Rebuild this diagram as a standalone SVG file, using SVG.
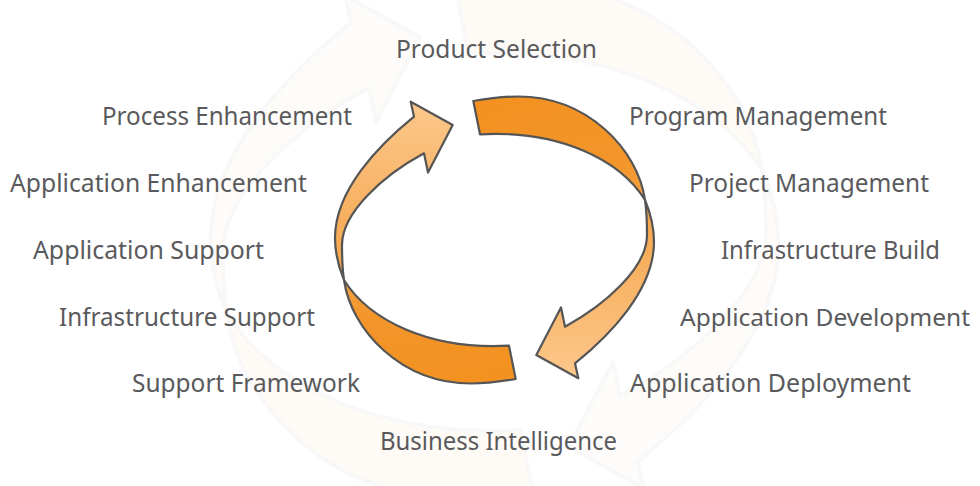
<svg xmlns="http://www.w3.org/2000/svg" xmlns:xlink="http://www.w3.org/1999/xlink" width="980" height="486" viewBox="0 0 980 486">
  <style>
    .lbl { font-family: "Noto Sans", "Open Sans", "Liberation Sans", sans-serif; font-size: 26px; fill: #5a5a5c; }
    .edge { stroke: #555555; stroke-width: 2.2; stroke-linejoin: round; }
    .faint .edge { stroke-width: 1.2; }
  </style>
  <defs>
    <linearGradient id="gLight" x1="0" y1="0" x2="0" y2="1">
      <stop offset="0" stop-color="#f5a247"/>
      <stop offset="1" stop-color="#fcc88c"/>
    </linearGradient>
    <linearGradient id="gDark" x1="0.3" y1="0" x2="1" y2="1">
      <stop offset="0" stop-color="#f39221"/>
      <stop offset="0.7" stop-color="#f3952a"/>
      <stop offset="1" stop-color="#f5a244"/>
    </linearGradient>
    <g id="half">
      <path class="edge" fill="url(#gDark)" d="M473.3,101 C488,98.5 503,96.5 518,96.5 C588,96.5 638,150 645,200 C620,160 560,130 480,134.3 Z"/>
      <path class="edge" fill="url(#gLight)" d="M645,200 C650,212 654,226 654,242 C654,290 610,335 575,363.3 L578.3,378.3 L536.3,355 L561,307.5 L565,326.7 C605,305 647,268 647,235 C647,222 646.5,210 645,200 Z"/>
    </g>
  </defs>

  <rect x="0" y="0" width="980" height="486" fill="#ffffff"/>

  <g id="background" class="faint" opacity="0.035" transform="translate(494.5,242) scale(1.78) translate(-494.5,-240)">
    <use xlink:href="#half"/>
    <use xlink:href="#half" transform="rotate(180 494.5 240)"/>
  </g>

  <g id="connectors">
    <g id="cycle-right">
      <use xlink:href="#half"/>
    </g>
    <g id="cycle-left">
      <use xlink:href="#half" transform="rotate(180 494.5 240)"/>
    </g>
  </g>

  <g id="product-selection"><text class="lbl" x="396" y="57.5" textLength="201" lengthAdjust="spacingAndGlyphs">Product Selection</text></g>
  <g id="process-enhancement"><text class="lbl" x="102" y="124.5" textLength="250" lengthAdjust="spacingAndGlyphs">Process Enhancement</text></g>
  <g id="program-management"><text class="lbl" x="629" y="124.5" textLength="258" lengthAdjust="spacingAndGlyphs">Program Management</text></g>
  <g id="application-enhancement"><text class="lbl" x="10" y="191.5" textLength="297" lengthAdjust="spacingAndGlyphs">Application Enhancement</text></g>
  <g id="project-management"><text class="lbl" x="689" y="191.5" textLength="240" lengthAdjust="spacingAndGlyphs">Project Management</text></g>
  <g id="application-support"><text class="lbl" x="33" y="258.5" textLength="231" lengthAdjust="spacingAndGlyphs">Application Support</text></g>
  <g id="infrastructure-build"><text class="lbl" x="721" y="258.5" textLength="219" lengthAdjust="spacingAndGlyphs">Infrastructure Build</text></g>
  <g id="infrastructure-support"><text class="lbl" x="59" y="325.5" textLength="256" lengthAdjust="spacingAndGlyphs">Infrastructure Support</text></g>
  <g id="application-development"><text class="lbl" x="680" y="325.5" style="font-size:24px" textLength="290" lengthAdjust="spacingAndGlyphs">Application Development</text></g>
  <g id="support-framework"><text class="lbl" x="132" y="392" textLength="228" lengthAdjust="spacingAndGlyphs">Support Framework</text></g>
  <g id="application-deployment"><text class="lbl" x="630" y="392" textLength="281" lengthAdjust="spacingAndGlyphs">Application Deployment</text></g>
  <g id="business-intelligence"><text class="lbl" x="380" y="449.5" textLength="237" lengthAdjust="spacingAndGlyphs">Business Intelligence</text></g>
</svg>
